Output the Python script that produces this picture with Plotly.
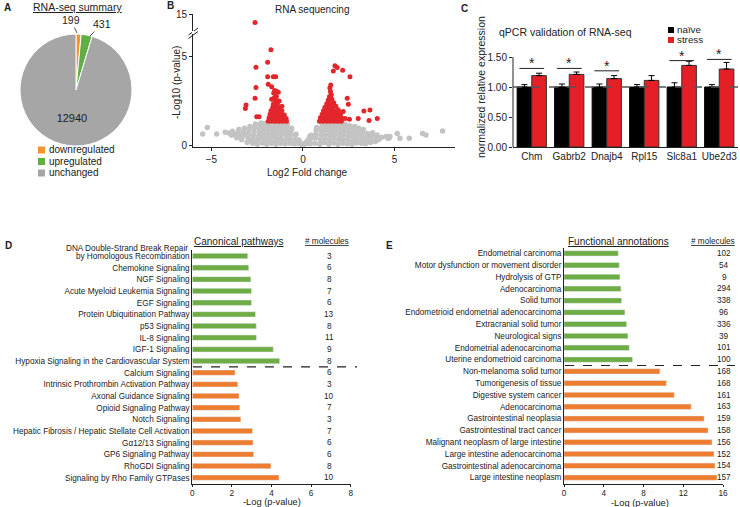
import plotly.graph_objects as go

W, H = 740, 507
FONT = 'Arial, "Liberation Sans", sans-serif'


def px(x):
    return x / W


def py(y):
    return 1 - y / H


# %% data - A pie
pie_labels = ['downregulated', 'upregulated', 'unchanged']
pie_values = [199, 431, 12940]
pie_colors = ['#f39433', '#5fae46', '#a6a6a6']

# %% data - B volcano
gray_x = [-5.23, -5.48, -4.72, -4.25, -4.05, -3.9, -3.85, -3.75, -3.62, -3.55, -3.5, -3.45,
          -3.35, -3.3, -3.25, -3.2, -3.15, -3.05, -3.0, -2.98, -2.95, -2.9, -2.88,
          -2.75, -2.72, -2.7, -2.68, -2.65, -2.6, -2.62, -2.5, -2.45, -2.42, -2.4, -2.38, -2.35, -2.3,
          -2.22, -2.2, -2.18, -2.15, -2.12, -2.1, -2.05, -1.98, -1.95, -1.92, -1.9, -1.88, -1.85, -1.82,
          -1.72, -1.7, -1.68, -1.65, -1.62, -1.6, -1.58, -1.48, -1.45, -1.42, -1.4, -1.38, -1.35, -1.32,
          -1.22, -1.2, -1.18, -1.15, -1.12, -1.1, -0.98, -0.95, -0.92, -0.9, -0.88, -0.85,
          -0.72, -0.7, -0.68, -0.65, -0.62, -0.48, -0.45, -0.42, -0.38, -0.25, -0.22, -0.15, -0.08,
          0.08, 0.15, 0.25, 0.28, 0.4, 0.42, 0.45, 0.38, 0.65, 0.68, 0.7, 0.72, 0.75,
          0.92, 0.95, 0.97, 1.0, 1.02, 1.05, 1.18, 1.2, 1.22, 1.25, 1.28, 1.3,
          1.42, 1.45, 1.48, 1.5, 1.52, 1.55, 1.68, 1.7, 1.72, 1.75, 1.78, 1.8,
          1.92, 1.95, 1.98, 2.0, 2.02, 2.05, 2.18, 2.2, 2.22, 2.25, 2.28, 2.3,
          2.42, 2.45, 2.48, 2.5, 2.52, 2.55, 2.68, 2.7, 2.72, 2.75, 2.78, 2.82,
          2.92, 2.95, 2.98, 3.0, 3.05, 3.18, 3.2, 3.22, 3.25, 3.3, 3.42, 3.45, 3.48, 3.52,
          3.68, 3.72, 3.75, 3.8, 3.95, 3.99, 4.05, 4.1, 4.17, 4.3, 4.56, 4.63, 4.7, 4.75,
          5.15, 5.3, 5.81, 6.54, 6.72, 7.63]
gray_y = [1.0, 0.63, 0.63, 0.72, 0.68, 0.55, 0.78, 0.62, 0.42, 0.7, 0.9, 0.55,
          0.3, 0.5, 0.75, 0.95, 0.62, 0.15, 0.4, 0.62, 0.85, 1.05, 0.28,
          0.1, 0.35, 0.55, 0.78, 1.0, 1.2, 0.2, 0.05, 0.3, 0.5, 0.72, 0.92, 1.12, 1.25,
          0.12, 0.38, 0.6, 0.82, 1.02, 1.22, 0.25, 0.05, 0.45, 0.68, 0.9, 1.1, 1.25, 0.2,
          0.1, 0.35, 0.58, 0.8, 1.0, 1.2, 0.25, 0.05, 0.45, 0.7, 0.92, 1.12, 1.25, 0.22,
          0.1, 0.35, 0.6, 0.82, 1.05, 1.22, 0.08, 0.3, 0.55, 0.78, 1.0, 1.2,
          0.1, 0.35, 0.6, 0.82, 0.95, 0.08, 0.3, 0.55, 0.62, 0.1, 0.28, 0.12, 0.05,
          0.05, 0.15, 0.1, 0.3, 0.08, 0.35, 0.55, 0.5, 0.1, 0.4, 0.62, 0.85, 1.0,
          0.05, 0.3, 0.55, 0.78, 1.0, 1.22, 0.15, 0.4, 0.62, 0.85, 1.08, 1.25,
          0.05, 0.3, 0.55, 0.78, 1.0, 1.2, 0.12, 0.38, 0.6, 0.82, 1.05, 1.25,
          0.05, 0.3, 0.52, 0.75, 0.98, 1.2, 0.1, 0.35, 0.58, 0.8, 1.02, 1.18,
          0.08, 0.3, 0.52, 0.75, 0.95, 1.1, 0.05, 0.25, 0.48, 0.7, 0.9, 1.05,
          0.12, 0.35, 0.58, 0.8, 0.95, 0.1, 0.3, 0.52, 0.72, 0.88, 0.08, 0.28, 0.48, 0.65,
          0.15, 0.35, 0.55, 0.7, 0.2, 0.47, 0.57, 0.3, 0.34, 0.45, 0.48, 0.4, 0.38, 0.48,
          0.66, 0.38, 0.38, 0.66, 0.57, 0.8]

red_x = [-1.9, -1.7, -1.5, -1.3, -1.1, -0.9, -1.85, -1.65, -1.45, -1.25, -1.05, -0.92,
         -1.8, -1.6, -1.4, -1.2, -1.02, -1.75, -1.55, -1.35, -1.15, -1.65, -1.45, -1.28, -1.15,
         -1.6, -1.4, -1.5, -1.3, -1.45, -1.55, -1.71, -1.53, -1.62, -1.4,
         -1.75, -1.93, -2.57, -1.93, -1.62, -1.49, -2.57, -1.9, -2.62, -3.11, -3.15, -2.53, -2.4,
         -1.71, -1.55, -1.45, -1.35, -1.6,
         0.9, 1.1, 1.3, 1.5, 1.7, 1.9, 2.1, 0.95, 1.15, 1.35, 1.55, 1.75, 1.95, 2.15,
         1.05, 1.25, 1.45, 1.65, 1.85, 2.05, 1.12, 1.32, 1.52, 1.72, 1.92, 1.2, 1.4, 1.6, 1.8,
         1.3, 1.5, 1.68, 1.38, 1.58, 1.45, 1.55, 1.5, 1.47, 1.52,
         1.75, 1.87, 1.66, 2.17, 2.57, 2.42, 2.48, 3.33, 3.66, 3.02, 3.61, 4.06, 2.3, 2.54, 1.98, 2.2]
red_y = [1.35, 1.35, 1.35, 1.35, 1.35, 1.35, 1.55, 1.55, 1.55, 1.55, 1.55, 1.5,
         1.75, 1.75, 1.75, 1.75, 1.7, 1.95, 1.95, 1.95, 1.95, 2.15, 2.15, 2.15, 2.2,
         2.35, 2.35, 2.55, 2.5, 2.75, 2.7, 2.6, 2.7, 2.3, 2.5,
         5.4, 4.7, 4.41, 3.88, 3.88, 3.88, 3.26, 3.45, 2.65, 2.27, 2.08, 1.61, 1.61,
         3.31, 3.1, 3.05, 3.0, 2.95,
         1.35, 1.35, 1.35, 1.35, 1.35, 1.35, 1.35, 1.55, 1.55, 1.55, 1.55, 1.55, 1.55, 1.5,
         1.75, 1.75, 1.75, 1.75, 1.75, 1.72, 1.95, 1.95, 1.95, 1.95, 2.0, 2.15, 2.15, 2.15, 2.2,
         2.35, 2.35, 2.4, 2.55, 2.6, 2.75, 2.85, 3.04, 3.23, 3.4,
         4.5, 4.4, 4.2, 4.24, 3.88, 2.65, 2.31, 1.93, 1.99, 1.51, 1.4, 1.51, 1.51, 1.47, 1.89, 1.9]
# point above the axis break
red_top_x = [-2.62]
red_top_y = [13.8]

# %% data - C qPCR
genes = ['Chm', 'Gabrb2', 'Dnajb4', 'Rpl15', 'Slc8a1', 'Ube2d3']
naive = [1.0, 1.0, 1.0, 1.0, 1.0, 1.0]
naive_err = [0.04, 0.05, 0.05, 0.04, 0.07, 0.04]
stress = [1.19, 1.21, 1.14, 1.11, 1.36, 1.30]
stress_err = [0.04, 0.04, 0.05, 0.08, 0.07, 0.11]
sig_y = [1.31, 1.31, 1.27, None, 1.44, 1.46]

# %% data - D canonical pathways
canon = ['DNA Double-Strand Break Repair<br>by Homologous Recombination', 'Chemokine Signaling',
         'NGF Signaling', 'Acute Myeloid Leukemia Signaling', 'EGF Signaling',
         'Protein Ubiquitination Pathway', 'p53 Signaling', 'IL-8 Signaling', 'IGF-1 Signaling',
         'Hypoxia Signaling in the Cardiovascular System',
         'Calcium Signaling', 'Intrinsic Prothrombin Activation Pathway', 'Axonal Guidance Signaling',
         'Opioid Signaling Pathway', 'Notch Signaling',
         'Hepatic Fibrosis / Hepatic Stellate Cell Activation', 'Gα12/13 Signaling',
         'GP6 Signaling Pathway', 'RhoGDI Signaling', 'Signaling by Rho Family GTPases']
canon_p = [2.8, 2.85, 2.96, 2.99, 2.99, 3.19, 3.23, 3.24, 4.09, 4.41,
           2.16, 2.3, 2.36, 2.4, 2.45, 3.04, 3.07, 3.1, 3.97, 4.38]
canon_n = [3, 6, 8, 7, 6, 13, 8, 11, 9, 8, 6, 3, 10, 7, 3, 7, 6, 6, 8, 10]

# %% data - E functional annotations
func = ['Endometrial carcinoma', 'Motor dysfunction or movement disorder', 'Hydrolysis of GTP',
        'Adenocarcinoma', 'Solid tumor', 'Endometrioid endometrial adenocarcinoma',
        'Extracranial solid tumor', 'Neurological signs', 'Endometrial adenocarcinoma',
        'Uterine endometrioid carcinoma',
        'Non-melanoma solid tumor', 'Tumorigenesis of tissue', 'Digestive system cancer',
        'Adenocarcinoma', 'Gastrointestinal neoplasia', 'Gastrointestinal tract cancer',
        'Malignant neoplasm of large intestine', 'Large intestine adenocarcinoma',
        'Gastrointestinal adenocarcinoma', 'Large intestine neoplasm']
func_p = [5.46, 5.56, 5.63, 5.73, 5.8, 6.13, 6.3, 6.43, 6.57, 6.9,
          9.65, 10.3, 11.1, 12.8, 14.1, 14.5, 14.9, 15.1, 15.2, 15.4]
func_n = [102, 54, 9, 294, 338, 96, 336, 39, 101, 100,
          168, 168, 161, 163, 159, 158, 156, 152, 154, 157]

# up (green) for first ten, down (orange) for the rest
group = ['up'] * 10 + ['down'] * 10
GREEN, ORANGE = '#6fac45', '#ed7d31'
VRED, VGRAY = '#e3262b', '#c3c3c3'
CRED = '#e41f25'

fig = go.Figure()

# %% A
fig.add_trace(go.Pie(
    labels=pie_labels, values=pie_values, sort=False, direction='clockwise',
    marker=dict(colors=pie_colors, line=dict(color='white', width=1)),
    texttemplate=['', '', '%{value:d}'], textposition='inside',
    insidetextorientation='horizontal', insidetextfont=dict(size=11, color='#222'),
    domain=dict(x=[px(20), px(132)], y=[py(146), py(34)]),
    showlegend=False, hoverinfo='label+value'))

# %% B
fig.add_trace(go.Scatter(x=gray_x, y=gray_y, mode='markers', xaxis='x', yaxis='y',
                         marker=dict(color=VGRAY, size=5.5), showlegend=False))
fig.add_trace(go.Scatter(x=red_x, y=red_y, mode='markers', xaxis='x', yaxis='y',
                         marker=dict(color=VRED, size=5), showlegend=False))
fig.add_trace(go.Scatter(x=red_top_x, y=red_top_y, mode='markers', xaxis='x', yaxis='y2',
                         marker=dict(color=VRED, size=5), showlegend=False))

# %% C
fig.add_trace(go.Bar(x=genes, y=naive, name='naïve', xaxis='x3', yaxis='y3',
                     marker=dict(color='black', line=dict(color='black', width=1)),
                     error_y=dict(type='data', array=naive_err, arrayminus=[0] * 6,
                                  symmetric=False, color='black', thickness=1, width=3),
                     showlegend=False))
fig.add_trace(go.Bar(x=genes, y=stress, name='stress', xaxis='x3', yaxis='y3',
                     marker=dict(color=CRED, line=dict(color='#333', width=1)),
                     error_y=dict(type='data', array=stress_err, arrayminus=[0] * 6,
                                  symmetric=False, color='black', thickness=1, width=3),
                     showlegend=False))

# %% D and E
fig.add_trace(go.Bar(x=canon_p, y=list(range(len(canon))), orientation='h', xaxis='x4', yaxis='y4',
                     width=0.46, marker=dict(color=[GREEN if g == 'up' else ORANGE for g in group]),
                     showlegend=False))
fig.add_trace(go.Bar(x=func_p, y=list(range(len(func))), orientation='h', xaxis='x5', yaxis='y5',
                     width=0.46, marker=dict(color=[GREEN if g == 'up' else ORANGE for g in group]),
                     showlegend=False))

tick_font = dict(size=10, color='#222')
small_font = dict(size=8.2, color='#222')
axis_common = dict(showline=True, linecolor='#222', linewidth=1, ticks='outside', ticklen=3,
                   tickcolor='#222', showgrid=False, zeroline=False)
low_axis = dict(axis_common, ticklen=2)

D_dom = [py(483.5), py(250.2)]
E_dom = [py(483.5), py(247.5)]

# two-line label: last line sits on the tick, the earlier one goes in an annotation above
canon_ticks = [c.split('<br>')[-1] for c in canon]

fig.update_layout(
    width=W, height=H, margin=dict(l=0, r=0, t=0, b=0, autoexpand=False),
    paper_bgcolor='white', plot_bgcolor='white',
    font=dict(family=FONT, color='#222'),
    barmode='group', bargap=0.22, bargroupgap=0,
    # B
    xaxis=dict(domain=[px(193), px(455)], range=[-6.01, 8.31], anchor='y',
               tickvals=[-5, 0, 5], tickfont=tick_font, **axis_common),
    yaxis=dict(domain=[py(147), py(34)], range=[-0.11, 6.3], anchor='x',
               tickvals=[0, 5], tickfont=tick_font, **axis_common),
    yaxis2=dict(domain=[py(31), py(14)], range=[12.5, 15.1], anchor='x',
                tickvals=[15], tickfont=tick_font, **axis_common),
    # C
    xaxis3=dict(domain=[px(513), px(738)], anchor='y3', type='category',
                showline=True, linecolor='#222', linewidth=1, ticks='',
                tickfont=tick_font, showgrid=False),
    yaxis3=dict(domain=[py(147), py(47)], range=[0, 1.667], anchor='x3',
                tickvals=[0, 0.5, 1.0, 1.5], ticktext=['0.00', '0.50', '1.00', '1.50'],
                showline=False, ticks='outside', ticklen=3, tickcolor='#222',
                tickfont=tick_font, showgrid=False, zeroline=False),
    # D
    xaxis4=dict(domain=[px(192.3), px(350.7)], range=[0, 8], anchor='y4',
                tickvals=[0, 2, 4, 6, 8], tickfont=small_font, **low_axis),
    yaxis4=dict(domain=D_dom, range=[19.5, -0.5], anchor='x4',
                tickvals=list(range(len(canon))), ticktext=canon_ticks, tickfont=small_font,
                showline=True, linecolor='#222', linewidth=1, ticks='', showgrid=False,
                zeroline=False),
    # E
    xaxis5=dict(domain=[px(564), px(723)], range=[0, 16], anchor='y5',
                tickvals=[0, 4, 8, 12, 16], tickfont=small_font, **low_axis),
    yaxis5=dict(domain=E_dom, range=[19.5, -0.5], anchor='x5',
                tickvals=list(range(len(func))), ticktext=func, tickfont=small_font,
                showline=True, linecolor='#222', linewidth=1, ticks='', showgrid=False,
                zeroline=False),
)

shapes = []
ann = []


def text(x, y, t, size=10, **kw):
    d = dict(x=px(x), y=py(y), xref='paper', yref='paper', text=t, showarrow=False,
             xanchor='center', yanchor='middle', font=dict(size=size, color='#222'))
    d.update(kw)
    ann.append(d)


# panel letters
for letter, (lx, ly) in zip('ABCDE', [(2, 8), (165, 6), (459, 9), (3, 245), (384, 245)]):
    text(lx, ly, '<b>%s</b>' % letter, size=10, xanchor='left')

# A labels
text(77, 7, '<u>RNA-seq summary</u>', size=10.5)
ann.append(dict(x=px(77), y=py(33), xref='paper', yref='paper', text=str(pie_values[0]),
                showarrow=True, arrowhead=0, arrowwidth=0.8, arrowcolor='#222',
                ax=-6, ay=-13, font=dict(size=10.5, color='#222'), standoff=0))
ann.append(dict(x=px(90), y=py(36), xref='paper', yref='paper', text=str(pie_values[1]),
                showarrow=True, arrowhead=0, arrowwidth=0.8, arrowcolor='#222',
                ax=12, ay=-12, font=dict(size=10.5, color='#222'), standoff=0))
for i, (lab, col) in enumerate(zip(pie_labels, pie_colors)):
    yy = 150 + i * 11.5
    shapes.append(dict(type='rect', xref='paper', yref='paper', x0=px(38), x1=px(45),
                       y0=py(yy + 3.5), y1=py(yy - 3.5), fillcolor=col, line=dict(width=0)))
    text(47, yy, lab, size=10, xanchor='left')

# B labels
text(312, 10, 'RNA sequencing', size=10)
text(307, 173, 'Log2 Fold change', size=10)
text(177, 83, '-Log10 (p-value)', size=10, textangle=-90)
# axis break marks
for off in (0, 3.5):
    shapes.append(dict(type='line', xref='paper', yref='paper', x0=px(188.5), x1=px(198),
                       y0=py(35 + off), y1=py(28 + off), line=dict(color='#222', width=1)))
shapes.append(dict(type='rect', xref='paper', yref='paper', x0=px(192), x1=px(194),
                   y0=py(34), y1=py(31), fillcolor='white', line=dict(width=0)))

# C labels
text(565, 32, 'qPCR validation of RNA-seq', size=10.5)
text(481, 87, 'normalized relative expression', size=10.5, textangle=-90)
shapes.append(dict(type='line', xref='paper', yref='paper', x0=px(513), x1=px(513),
                   y0=py(147), y1=py(57), line=dict(color='#222', width=1)))
shapes.append(dict(type='line', xref='x3 domain', yref='y3', x0=0, x1=1, y0=1, y1=1,
                   line=dict(color='#555', width=1.5, dash='dash')))
for i, s in enumerate(sig_y):
    if s is None:
        continue
    shapes.append(dict(type='line', xref='x3', yref='y3', x0=i - 0.33, x1=i + 0.33, y0=s, y1=s,
                       line=dict(color='#222', width=1)))
    ann.append(dict(x=i, y=s, xref='x3', yref='y3', text='*', showarrow=False,
                    yanchor='bottom', yshift=-5, font=dict(size=14, color='#222')))
for i, (lab, col) in enumerate(zip(['naïve', 'stress'], ['black', CRED])):
    yy = 30 + i * 10
    shapes.append(dict(type='rect', xref='paper', yref='paper', x0=px(668), x1=px(674),
                       y0=py(yy + 3), y1=py(yy - 3), fillcolor=col, line=dict(width=0)))
    text(675, yy, lab, size=9.8, xanchor='left')

# D/E labels
text(239, 241, '<u>Canonical pathways</u>', size=10)
text(327, 241, '<u># molecules</u>', size=8.2)
text(272, 502, '-Log (p-value)', size=9.3)
text(618, 241, '<u>Functional annotations</u>', size=10)
text(713, 241, '<u># molecules</u>', size=8.2)
text(640, 502.5, '-Log (p-value)', size=9.3)
for i, c in enumerate(canon):
    first = c.split('<br>')[:-1]
    if first:
        ann.append(dict(x=px(190), y=i, xref='paper', yref='y4', text='<br>'.join(first),
                        showarrow=False, xanchor='right', yanchor='middle', yshift=8,
                        font=small_font))
for i, n in enumerate(canon_n):
    ann.append(dict(x=px(329), y=i, xref='paper', yref='y4', text=str(n), showarrow=False,
                    xanchor='center', yanchor='middle', font=small_font))
for i, n in enumerate(func_n):
    ann.append(dict(x=px(724), y=i, xref='paper', yref='y5', text=str(n), showarrow=False,
                    xanchor='center', yanchor='middle', font=small_font))
# separators between up and down groups
shapes.append(dict(type='line', xref='paper', yref='paper', x0=px(193), x1=px(357),
                   y0=(D_dom[0] + D_dom[1]) / 2, y1=(D_dom[0] + D_dom[1]) / 2,
                   line=dict(color='#222', width=1.2, dash='dash')))
shapes.append(dict(type='line', xref='paper', yref='paper', x0=px(565), x1=px(735),
                   y0=(E_dom[0] + E_dom[1]) / 2, y1=(E_dom[0] + E_dom[1]) / 2,
                   line=dict(color='#222', width=1.2, dash='dash')))

fig.update_layout(shapes=shapes, annotations=ann)

# the page body has a default 8px margin; drop it so the figure fills the window
fig.write_html("out.html", config={'displayModeBar': False},
               post_script="document.body.style.margin='0px';")
